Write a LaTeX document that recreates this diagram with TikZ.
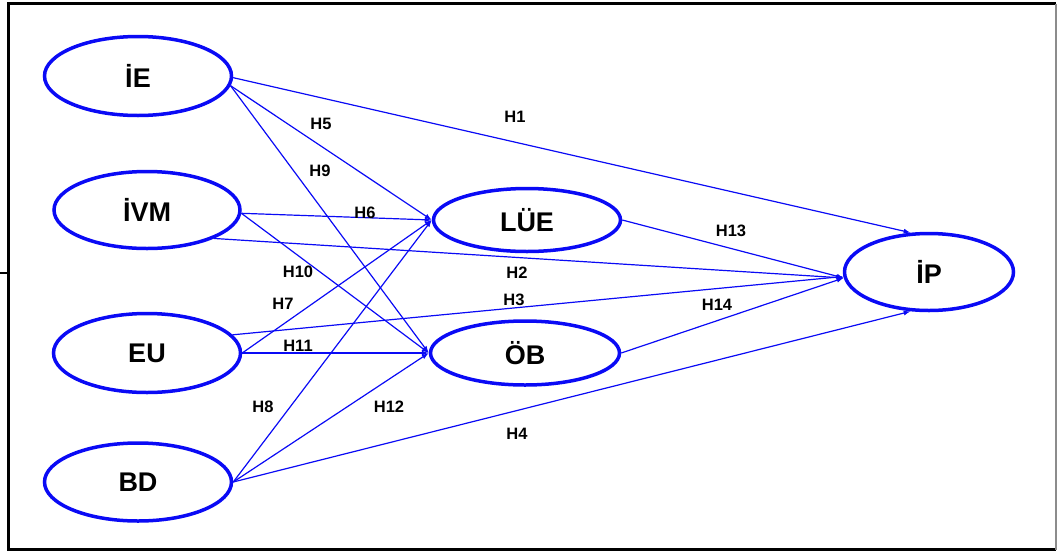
\documentclass[tikz,border=0pt]{standalone}
\usepackage{fontspec}
\setmainfont{Liberation Sans}
\usetikzlibrary{shapes.geometric,arrows.meta}
\definecolor{bl}{RGB}{10,10,245}
\begin{document}
\begin{tikzpicture}[x=1pt,y=-1pt,
  lat/.style={ellipse,draw=bl,line width=3.5pt,inner sep=0pt,
    font=\fontsize{27}{27}\selectfont\bfseries},
  hyp/.style={draw=bl,line width=1.2pt,-{Latex[length=7pt,width=5pt]}},
  lab/.style={font=\fontsize{16.5}{16.5}\selectfont\bfseries,text=black,inner sep=1pt}]
\useasboundingbox (0,0) rectangle (1057,552);
% frame
\draw[line width=3pt] (1055.5,3.5) -- (8.5,3.5) -- (8.5,549.5) -- (1055.5,549.5);
\draw[line width=1.5pt,black!45] (1055.8,3.5) -- (1055.8,549.5);
\draw[line width=2pt] (0,273) -- (8,273);
% latent variables
\node[lat,minimum width=187pt,minimum height=79pt] (IE) at (138,76) {İE};
\node[lat,minimum width=186pt,minimum height=77pt] (IVM) at (147,210) {İVM};
\node[lat,minimum width=187pt,minimum height=79pt] (EU) at (147,353) {EU};
\node[lat,minimum width=187pt,minimum height=78pt] (BD) at (138,482) {BD};
\node[lat,minimum width=187pt,minimum height=63pt] (LUE) at (527,220) {LÜE};
\node[lat,minimum width=189pt,minimum height=64pt] (OB) at (525,353) {ÖB};
\node[lat,minimum width=169pt,minimum height=77pt] (IP) at (929,272) {İP};
% paths
\draw[hyp] (IE.-1) -- (IP.115);
\draw[hyp] (IE.-6) -- (LUE.west);
\draw[hyp] (IE.-6) -- (OB.west);
\draw[hyp] (IVM.-2) -- (LUE.west);
\draw[hyp] (IVM.-2) -- (OB.west);
\draw[hyp] (IVM.-23) -- (IP.184);
\draw[hyp] (EU.12) -- (IP.183);
\draw[hyp] (EU.east) -- (LUE.west);
\draw[hyp] (EU.east) -- (OB.west);
\draw[hyp] (BD.east) -- (LUE.west);
\draw[hyp] (BD.east) -- (OB.west);
\draw[hyp] (BD.east) -- (IP.245);
\draw[hyp] (LUE.east) -- (IP.184);
\draw[hyp] (OB.east) -- (IP.184);
% labels
\node[lab] (h1) at (515,117) {H1};
\node[lab] (h5) at (321,124) {H5};
\node[lab] (h9) at (320,171) {H9};
\node[lab] (h6) at (365,213) {H6};
\node[lab] (h10) at (298,272) {H10};
\node[lab] (h7) at (283,304) {H7};
\node[lab] (h11) at (298,346) {H11};
\node[lab] (h8) at (263,407) {H8};
\node[lab] (h12) at (389,407) {H12};
\node[lab] (h2) at (517,273) {H2};
\node[lab] (h3) at (514,300) {H3};
\node[lab] (h13) at (731,231) {H13};
\node[lab] (h14) at (717,305) {H14};
\node[lab] (h4) at (517,434) {H4};
\end{tikzpicture}
\end{document}
